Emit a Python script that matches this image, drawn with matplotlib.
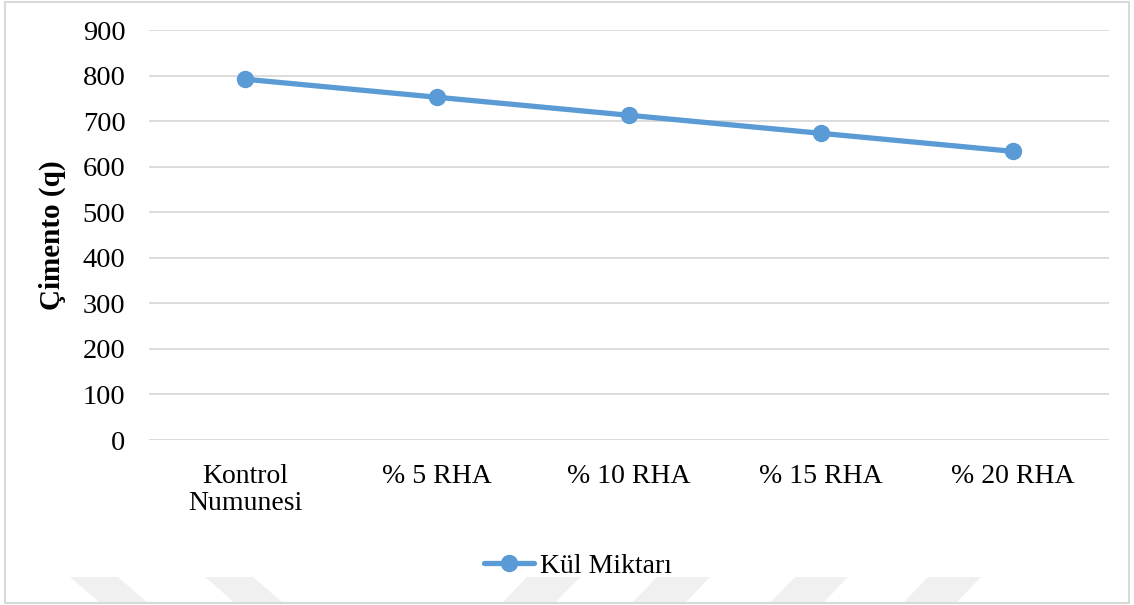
import matplotlib
matplotlib.use("Agg")
import matplotlib.pyplot as plt
from matplotlib.patches import Polygon, Rectangle

categories = ["Kontrol\nNumunesi", "% 5 RHA", "% 10 RHA", "% 15 RHA", "% 20 RHA"]
values = [792, 752.4, 712.8, 673.2, 633.6]
yticks = [0, 100, 200, 300, 400, 500, 600, 700, 800, 900]
series_name = "Kül Miktarı"
ylabel = "Çimento (q)"

plt.rcParams['font.family'] = ['Liberation Serif', 'DejaVu Serif']
color = "#5B9BD5"

fig = plt.figure(figsize=(11.34, 6.05), dpi=100)
W, H = 1134, 605

def fpoly(pts, fc):
    fig.patches.append(Polygon([(px / W, 1 - py / H) for px, py in pts], closed=True,
                               transform=fig.transFigure, facecolor=fc,
                               edgecolor="none", zorder=0))

# faint watermark parallelograms at the bottom
for x0 in [70, 205]:          # "\" shapes
    fpoly([(x0, 577), (x0 + 48, 577), (x0 + 78, 603), (x0 + 30, 603)], "#F0F0F0")
for x0 in [527, 657, 795, 928]:   # "/" shapes
    fpoly([(x0, 577), (x0 + 53, 577), (x0 + 28, 603), (x0 - 25, 603)], "#F0F0F0")

# outer frame
fig.patches.append(Rectangle((5 / W, 2 / H), 1124 / W, 601 / H, transform=fig.transFigure,
                             fill=False, edgecolor="#D9D9D9", linewidth=1.5, zorder=1))

ax = fig.add_axes([149 / W, 1 - 440 / H, 960 / W, 410 / H])
ax.set_facecolor("none")
x = list(range(len(categories)))
ax.plot(x, values, color=color, linewidth=3.8, marker="o", markersize=11.5,
        label=series_name, zorder=3, solid_capstyle="round")
ax.set_xlim(-0.5, len(categories) - 0.5)
ax.set_ylim(0, 900)
ax.set_yticks(yticks)
ax.set_xticks(x)
ax.set_xticklabels(categories, fontsize=20, linespacing=1.15)
ax.tick_params(axis="y", labelsize=20.5, length=0, pad=17)
ax.tick_params(axis="x", length=0, pad=17)
ax.yaxis.grid(True, color="#D9D9D9", linewidth=1.3)
ax.set_axisbelow(True)
for s in ax.spines.values():
    s.set_visible(False)
ax.set_ylabel(ylabel, fontsize=21, fontweight="bold", labelpad=12)

leg = ax.legend(loc="center", bbox_to_anchor=((578 - 149) / 960, -(566 - 440) / 410),
                frameon=False, fontsize=20, handlelength=1.8, handletextpad=0.2)

fig.savefig("out.png", dpi=100, facecolor="white")
